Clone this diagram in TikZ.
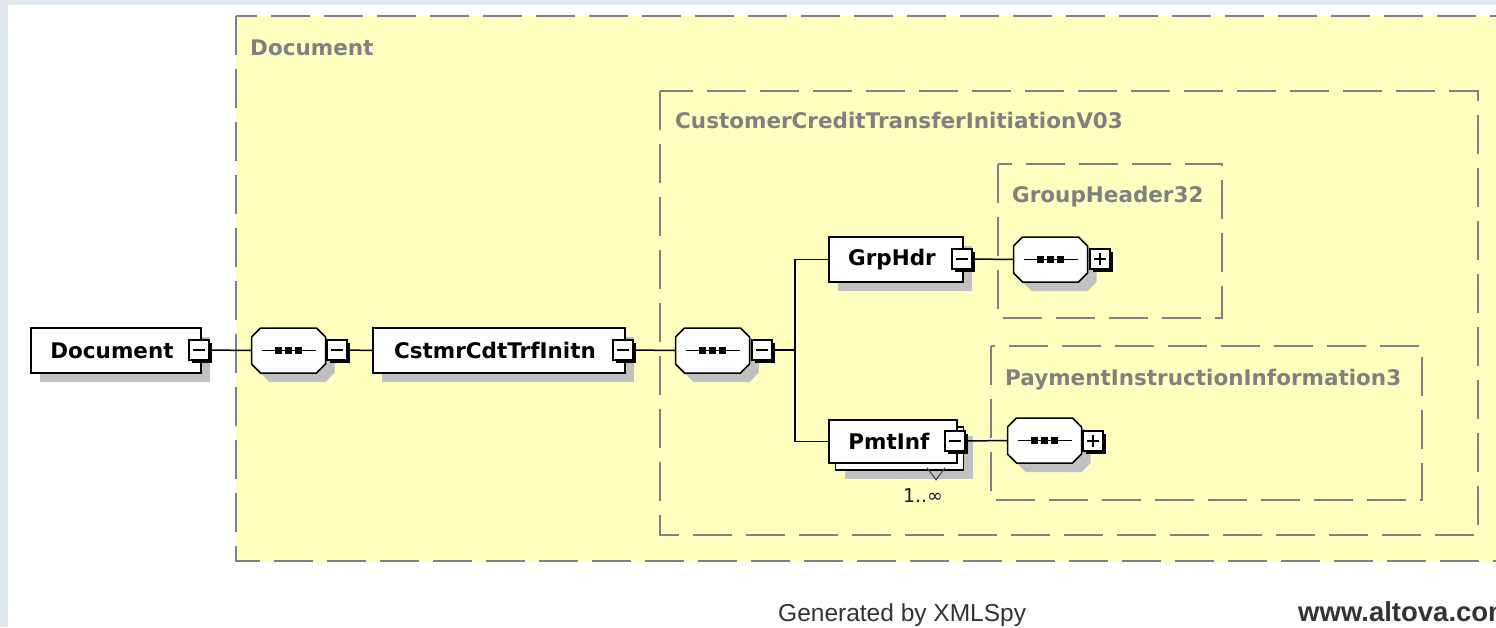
\documentclass[tikz,border=0pt]{standalone}
\usepackage{fontspec}
\setmainfont{DejaVu Sans}
\newfontfamily\footfont{Liberation Sans}
\usetikzlibrary{shadows}
\definecolor{bgblue}{HTML}{E1E7EF}
\definecolor{boxyellow}{HTML}{FFFFC0}
\definecolor{dashgray}{HTML}{808080}
\definecolor{shadowgray}{HTML}{C0C0C0}
\definecolor{multcol}{HTML}{301030}
\definecolor{foottext}{HTML}{333333}
% sequence compositor: named anchor node + octagon with shadow and symbol
\newcommand\seqnode[3]{%
  \node[seqanchor] (#1) at (#2,#3) {};
  \begin{scope}[shift={(#1.center)}]
    \fill[shadowgray] (-19,-13.5) -- (37,-13.5) -- (46,-4.5) -- (46,22.5) -- (37,31.5) -- (-19,31.5) -- (-28,22.5) -- (-28,-4.5) -- cycle;
    \filldraw[draw=black,fill=white,line width=1.5pt] (-28,-22.5) -- (28,-22.5) -- (37,-13.5) -- (37,13.5) -- (28,22.5) -- (-28,22.5) -- (-37,13.5) -- (-37,-13.5) -- cycle;
    \draw[line width=1.5pt] (-27,0) -- (27,0);
    \foreach \dx in {-10,0,10} \fill[black] (\dx-3.2,-3.2) rectangle (\dx+3.2,3.2);
  \end{scope}}
\begin{document}
\begin{tikzpicture}[x=1pt,y=-1pt,
  efont/.style={font=\bfseries\fontsize{21.5}{24}\selectfont},
  shad/.style={drop shadow={shadow xshift=9pt,shadow yshift=-9pt,fill=shadowgray,opacity=1}},
  elembase/.style={draw=black,line width=1.5pt,fill=white,minimum height=45pt,inner sep=0pt,efont,text=black},
  elem/.style={elembase,shad},
  seqanchor/.style={draw=none,fill=none,minimum width=74pt,minimum height=45pt,inner sep=0pt},
  pmbox/.style={draw=black,line width=1.5pt,fill=white,minimum size=20pt,inner sep=0pt,
    drop shadow={shadow xshift=2.5pt,shadow yshift=-2.5pt,fill=black,opacity=1}},
  minusbox/.style={pmbox,path picture={\draw[line width=1.5pt] ([xshift=-6pt]path picture bounding box.center) -- ([xshift=6pt]path picture bounding box.center);}},
  plusbox/.style={pmbox,path picture={\draw[line width=1.5pt] ([xshift=-6pt]path picture bounding box.center) -- ([xshift=6pt]path picture bounding box.center) ([yshift=-6pt]path picture bounding box.center) -- ([yshift=6pt]path picture bounding box.center);}},
  grpbox/.style={draw=dashgray,line width=1.8pt,dash pattern=on 39pt off 14pt},
  grplab/.style={text=dashgray,efont,anchor=base west,inner sep=0pt},
  conn/.style={draw=black,line width=1.5pt}
]
\useasboundingbox (0,0) rectangle (1496,627);
\clip (0,0) rectangle (1496,627);
\fill[bgblue] (0,0) rectangle (1496,627);
\fill[white] (8,5) rectangle (1496,627);

% group boxes
\filldraw[grpbox,fill=boxyellow] (236,16) rectangle (1530,561);
\node[grplab] (labdoc) at (250,55) {Document};
\draw[grpbox] (660,91) rectangle (1478,535);
\node[grplab] (labccti) at (675,128) {CustomerCreditTransferInitiationV03};
\draw[grpbox] (998,164) rectangle (1222,318);
\node[grplab] (labgh) at (1012,202) {GroupHeader32};
\draw[grpbox] (991,346) rectangle (1422,500);
\node[grplab] (labpii) at (1005,385) {PaymentInstructionInformation3};

% main row
\node[elem,minimum width=170pt] (doc) at (116,350.5) {\hspace*{-8pt}Document};
\node[minusbox] (dmin) at (199,350) {};
\seqnode{seq1}{288.5}{350.5}
\node[minusbox] (smin1) at (337,350) {};
\node[elem,minimum width=252pt] (cstmr) at (499,350.5) {\hspace*{-8pt}CstmrCdtTrfInitn};
\node[minusbox] (cmin) at (623,350) {};
\seqnode{seq2}{712.5}{350.5}
\node[minusbox] (smin2) at (762,350) {};
\coordinate (br) at (795,350);

% GrpHdr
\node[elem,minimum width=134pt] (grp) at (896,259.5) {\hspace*{-8pt}GrpHdr};
\node[minusbox] (gmin) at (962,259) {};
\seqnode{seq3}{1050.5}{259.5}
\node[plusbox] (gplus) at (1100,259) {};

% PmtInf
\node[elem,minimum width=128pt,minimum height=43pt] (pmtback) at (899.5,448.5) {};
\node[elembase,minimum width=128pt,minimum height=43pt] (pmt) at (893,441.5) {\hspace*{-8pt}PmtInf};
\node[minusbox] (pmin) at (955,441) {};
\draw[line width=1.2pt,black!70] ([xshift=27.5pt,yshift=3pt]pmtback.south) -- ([xshift=36.5pt,yshift=-9pt]pmtback.south) -- ([xshift=45.5pt,yshift=3pt]pmtback.south);
\node[anchor=base,inner sep=0pt,text=multcol,font=\fontsize{19}{22}\selectfont] (mult) at (923,502) {1..∞};
\seqnode{seq4}{1044.5}{440.5}
\node[plusbox] (pplus) at (1093,441) {};

% connectors
\draw[conn] (dmin.east) -- (seq1.west);
\draw[conn] (smin1.east) -- (cstmr.west);
\draw[conn] (cmin.east) -- (seq2.west);
\draw[conn] (smin2.east) -- (br);
\draw[conn] (grp.west) -| (br);
\draw[conn] (pmt.west) -| (br);
\draw[conn] (gmin.east) -- (seq3.west);
\draw[conn] (pmin.east) -- (seq4.west);

% footer
\node[anchor=base west,inner sep=0pt,text=foottext,font=\footfont\fontsize{24.5}{28}\selectfont] (gen) at (778,621) {Generated by XMLSpy};
\node[anchor=base west,inner sep=0pt,text=foottext,font=\footfont\bfseries\fontsize{27.5}{30}\selectfont] (www) at (1298,621) {www.altova.com};
\end{tikzpicture}
\end{document}
